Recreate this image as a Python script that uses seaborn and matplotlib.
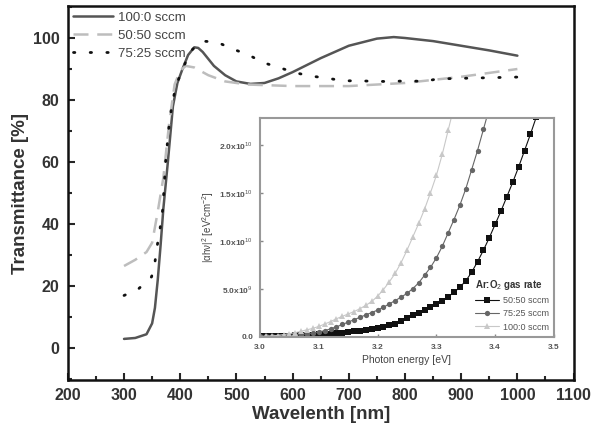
import numpy as np
import pandas as pd
import matplotlib as mpl
mpl.use("Agg")
import matplotlib.pyplot as plt
import seaborn as sns

### DATA ###
# main plot: transmittance vs wavelength
wl_100_0 = [300, 320, 340, 350, 355, 360, 365, 370, 378, 387, 395, 404, 414, 425, 432, 440, 460, 480,
            500, 525, 550, 575, 600, 650, 700, 750, 780, 800, 850, 900, 950, 1000]
tr_100_0 = [3.0, 3.3, 4.5, 8.0, 13.0, 22.0, 33.0, 45.0, 60.0, 78.0, 85.5, 90.0, 94.5, 97.0, 96.8, 95.5, 91.0, 88.0,
            86.0, 85.2, 85.5, 87.0, 89.0, 93.5, 97.5, 99.8, 100.3, 100.0, 99.0, 97.5, 96.0, 94.3]

wl_50_50 = [300, 320, 340, 350, 360, 370, 380, 390, 400, 410, 425, 450, 480, 520, 600, 700, 800, 900, 1000]
tr_50_50 = [26.5, 28.5, 31.0, 34.0, 44.0, 55.0, 72.0, 85.0, 89.5, 91.0, 90.5, 88.0, 86.0, 85.0, 84.5, 84.5,
            85.5, 87.5, 90.0]

wl_75_25 = [300, 325, 349, 355, 359, 364, 369, 374, 381, 387, 393, 404, 417, 438, 465, 493, 522, 549,
            579, 607, 634, 663, 691, 720, 750, 776, 805, 833, 858, 900, 950, 1000]
tr_75_25 = [17.0, 19.0, 23.0, 27.7, 33.0, 38.4, 45.0, 60.0, 73.5, 80.0, 85.0, 89.7, 95.5, 99.0, 98.7, 96.5,
            94.5, 92.0, 90.3, 88.7, 87.7, 87.0, 86.2, 86.2, 86.0, 86.0, 86.2, 86.0, 86.8, 87.0, 87.2, 87.4]

# inset: (alpha h nu)^2 vs photon energy, in units of 1e9
e_50_50 = [3.00, 3.01, 3.02, 3.03, 3.04, 3.05, 3.06, 3.07, 3.08, 3.09, 3.10, 3.11, 3.12, 3.13, 3.14, 3.15,
           3.16, 3.17, 3.18, 3.19, 3.20, 3.21, 3.22, 3.23, 3.24, 3.25, 3.26, 3.27, 3.28, 3.29, 3.30, 3.31,
           3.32, 3.33, 3.34, 3.35, 3.36, 3.37, 3.38, 3.39, 3.40, 3.41, 3.42, 3.43, 3.44, 3.45, 3.46, 3.47]
a_50_50 = [0.0, 0.02, 0.04, 0.06, 0.08, 0.1, 0.12, 0.14, 0.16, 0.19, 0.22, 0.26, 0.3, 0.35, 0.4, 0.46,
           0.52, 0.6, 0.68, 0.78, 0.88, 1.0, 1.15, 1.35, 1.6, 1.9, 2.2, 2.5, 2.8, 3.1, 3.4, 3.75,
           4.15, 4.6, 5.15, 5.8, 6.7, 7.8, 9.0, 10.3, 11.7, 13.1, 14.6, 16.1, 17.7, 19.4, 21.1, 22.9]

e_75_25 = [3.00, 3.01, 3.02, 3.03, 3.04, 3.05, 3.06, 3.07, 3.08, 3.09, 3.10, 3.11, 3.12, 3.13, 3.14, 3.15,
           3.16, 3.17, 3.18, 3.19, 3.20, 3.21, 3.22, 3.23, 3.24, 3.25, 3.26, 3.27, 3.28, 3.29, 3.30, 3.31,
           3.32, 3.33, 3.34, 3.35, 3.36, 3.37, 3.38, 3.39]
a_75_25 = [0.0, 0.02, 0.04, 0.06, 0.08, 0.1, 0.15, 0.2, 0.28, 0.37, 0.48, 0.6, 0.8, 1.0, 1.25, 1.5,
           1.75, 2.0, 2.25, 2.5, 2.75, 3.05, 3.4, 3.75, 4.1, 4.5, 5.0, 5.6, 6.4, 7.2, 8.2, 9.4,
           10.8, 12.2, 13.7, 15.4, 17.4, 19.4, 21.6, 23.8]

e_100_0 = [3.00, 3.01, 3.02, 3.03, 3.04, 3.05, 3.06, 3.07, 3.08, 3.09, 3.10, 3.11, 3.12, 3.13, 3.14, 3.15,
           3.16, 3.17, 3.18, 3.19, 3.20, 3.21, 3.22, 3.23, 3.24, 3.25, 3.26, 3.27, 3.28, 3.29, 3.30, 3.31,
           3.32, 3.33]
a_100_0 = [0.0, 0.03, 0.06, 0.1, 0.2, 0.3, 0.4, 0.55, 0.7, 0.85, 1.05, 1.3, 1.55, 1.85, 2.1, 2.35,
           2.6, 2.9, 3.25, 3.65, 4.2, 4.9, 5.7, 6.6, 7.7, 9.0, 10.4, 11.8, 13.3, 15.0, 16.8, 19.0,
           21.5, 24.0]

x_ticks = [200, 300, 400, 500, 600, 700, 800, 900, 1000, 1100]
y_ticks = [0, 20, 40, 60, 80, 100]
inset_x_ticks = [3.0, 3.1, 3.2, 3.3, 3.4, 3.5]
inset_y_ticks = [0, 5e9, 1e10, 1.5e10, 2e10]
inset_y_labels = ["0.0", "5.0x10$^{9}$", "1.0x10$^{10}$", "1.5x10$^{10}$", "2.0x10$^{10}$"]

### STYLE ###
sns.set_style("ticks")
plt.rcParams['font.family'] = ['Liberation Sans', 'DejaVu Sans']
plt.rcParams['mathtext.fontset'] = 'custom'
plt.rcParams['mathtext.rm'] = 'Liberation Sans'

fig = plt.figure(figsize=(5.95, 4.32), dpi=100)
ax = fig.add_axes([0.114, 0.12, 0.85, 0.866])

### MAIN PLOT ###
sns.lineplot(x=wl_100_0, y=tr_100_0, ax=ax, color="#555555", lw=1.8, label="100:0 sccm", sort=False)
sns.lineplot(x=wl_50_50, y=tr_50_50, ax=ax, color="#bdbdbd", lw=1.8, linestyle=(0, (6, 3.5)),
             label="50:50 sccm", sort=False)
sns.lineplot(x=wl_75_25, y=tr_75_25, ax=ax, color="#111111", lw=2.0, linestyle=(0, (0.5, 5.5)),
             dash_capstyle="round", label="75:25 sccm", sort=False)

ax.set_xlim(200, 1100)
ax.set_ylim(-10.3, 110.3)
ax.set_xticks(x_ticks)
ax.set_yticks(y_ticks)
ax.set_xticks([250, 350, 450, 550, 650, 750, 850, 950, 1050], minor=True)
ax.set_yticks([-10, 10, 30, 50, 70, 90, 110], minor=True)
ax.tick_params(which="major", direction="in", length=5, width=1.5, labelsize=11.5,
               labelcolor="#333333", pad=6)
ax.tick_params(which="minor", direction="in", length=3, width=1.5)
for lab in ax.get_xticklabels() + ax.get_yticklabels():
    lab.set_fontweight("bold")
for sp in ax.spines.values():
    sp.set_linewidth(1.8)
    sp.set_color("#111111")
ax.set_xlabel("Wavelenth [nm]", fontsize=13.5, fontweight="bold", color="#333333", labelpad=2)
ax.set_ylabel("Transmittance [%]", fontsize=13.5, fontweight="bold", color="#333333", labelpad=3)

leg = ax.legend(loc="upper left", frameon=False, fontsize=9.5, handlelength=3.0, handletextpad=0.4,
                labelspacing=0.45, borderaxespad=0.3, borderpad=0.1)
for t in leg.get_texts():
    t.set_color("#444444")

### INSET ###
ins = fig.add_axes([0.437, 0.22, 0.494, 0.507])
inset_df = pd.concat([
    pd.DataFrame({"E": e_50_50, "A": np.array(a_50_50) * 1e9, "rate": "50:50 sccm"}),
    pd.DataFrame({"E": e_75_25, "A": np.array(a_75_25) * 1e9, "rate": "75:25 sccm"}),
    pd.DataFrame({"E": e_100_0, "A": np.array(a_100_0) * 1e9, "rate": "100:0 sccm"}),
])
pal = {"50:50 sccm": "#111111", "75:25 sccm": "#666666", "100:0 sccm": "#c8c8c8"}
mk = {"50:50 sccm": "s", "75:25 sccm": "o", "100:0 sccm": "^"}
sns.lineplot(data=inset_df, x="E", y="A", hue="rate", style="rate", palette=pal, markers=mk,
             dashes=False, ax=ins, lw=0.8, markersize=3.8, markeredgewidth=0, sort=False)
ins.set_xlim(3.0, 3.495)
ins.set_ylim(-0.05e9, 2.28e10)
ins.set_xticks(inset_x_ticks)
ins.set_xticklabels([f"{v:.1f}" for v in inset_x_ticks])
ins.set_yticks(inset_y_ticks)
ins.set_yticklabels(inset_y_labels)
ins.tick_params(direction="in", length=2, width=1, labelsize=6.0, labelcolor="#555555", color="#888888", pad=5)
for lab in ins.get_xticklabels() + ins.get_yticklabels():
    lab.set_fontweight("bold")
for sp in ins.spines.values():
    sp.set_linewidth(1.5)
    sp.set_color("#999999")
ins.set_xlabel("Photon energy [eV]", fontsize=7.5, color="#444444", labelpad=3)
ins.set_ylabel("|αhν|$^{2}$ [eV$^{2}$cm$^{-2}$]", fontsize=7.0, color="#444444", labelpad=2)
ileg = ins.legend(title="Ar:O$_{2}$ gas rate", loc="lower right", frameon=False, fontsize=6.5,
                  title_fontsize=7, handlelength=2.6, handletextpad=0.4, labelspacing=0.45,
                  borderaxespad=0.2)
ileg._legend_box.align = "left"
for t in ileg.get_texts():
    t.set_color("#555555")
ileg.get_title().set_color("#333333")
ileg.get_title().set_fontweight("bold")

fig.savefig("out.png", dpi=100)
